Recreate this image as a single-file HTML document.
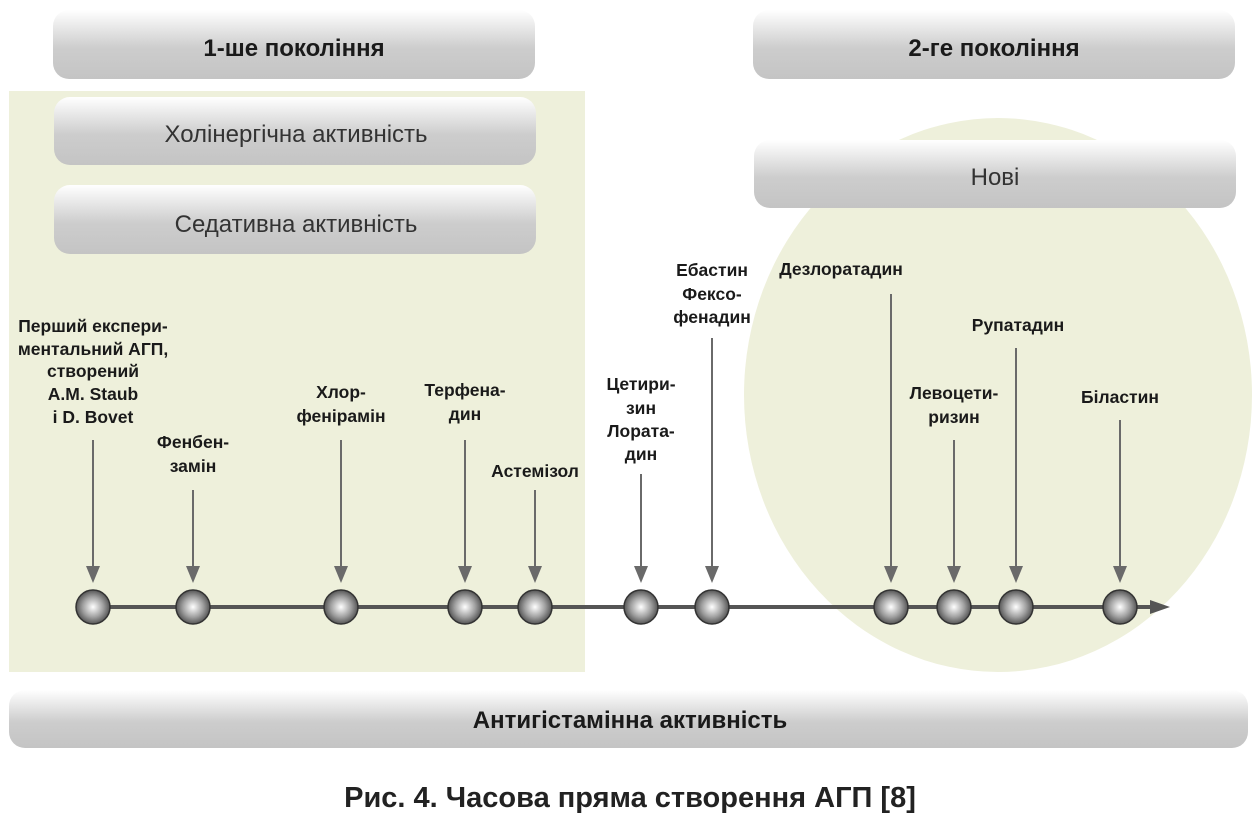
<!DOCTYPE html>
<html><head><meta charset="utf-8"><style>
body{margin:0;background:#fff;}
svg text{font-family:"Liberation Sans",sans-serif;}
</style></head><body>
<svg width="1260" height="819" viewBox="0 0 1260 819" xmlns="http://www.w3.org/2000/svg">
<defs>
<linearGradient id="g" x1="0" y1="0" x2="0" y2="1">
<stop offset="0" stop-color="#ffffff"/><stop offset="0.55" stop-color="#cdcdcd"/><stop offset="1" stop-color="#c4c4c4"/>
</linearGradient>
<radialGradient id="b" cx="0.5" cy="0.5" r="0.5">
<stop offset="0" stop-color="#ffffff"/><stop offset="0.6" stop-color="#a0a0a0"/><stop offset="1" stop-color="#555"/>
</radialGradient>
</defs>
<rect x="9" y="91" width="576" height="581" fill="#eef0db"/>
<ellipse cx="998" cy="395" rx="254" ry="277" fill="#eef0db"/>
<g fill="url(#g)">
<rect x="53" y="10" width="482" height="69" rx="16"/>
<rect x="753" y="10" width="482" height="69" rx="16"/>
<rect x="54" y="97" width="482" height="68" rx="16"/>
<rect x="54" y="185" width="482" height="69" rx="16"/>
<rect x="754" y="140" width="482" height="68" rx="16"/>
<rect x="9" y="690" width="1239" height="58" rx="16"/>
</g>
<g font-size="24" text-anchor="middle" fill="#1a1a1a">
<text x="294" y="56" font-weight="bold">1-ше покоління</text>
<text x="994" y="56" font-weight="bold">2-ге покоління</text>
<text x="296" y="142" fill="#333">Холінергічна активність</text>
<text x="296" y="232" fill="#333">Седативна активність</text>
<text x="995" y="185" fill="#333">Нові</text>
<text x="630" y="728" font-weight="bold">Антигістамінна активність</text>
</g>
<text x="630" y="807" text-anchor="middle" font-size="29" font-weight="bold" fill="#222">Рис. 4. Часова пряма створення АГП [8]</text>
<line x1="93" y1="607" x2="1155" y2="607" stroke="#555" stroke-width="4"/>
<polygon points="1150,600 1170,607 1150,614" fill="#555"/>
<g stroke="#6a6a6a" stroke-width="2">
<line x1="93" y1="440" x2="93" y2="572"/><line x1="193" y1="490" x2="193" y2="572"/>
<line x1="341" y1="440" x2="341" y2="572"/><line x1="465" y1="440" x2="465" y2="572"/>
<line x1="535" y1="490" x2="535" y2="572"/><line x1="641" y1="474" x2="641" y2="572"/>
<line x1="712" y1="338" x2="712" y2="572"/><line x1="891" y1="294" x2="891" y2="572"/>
<line x1="954" y1="440" x2="954" y2="572"/><line x1="1016" y1="348" x2="1016" y2="572"/>
<line x1="1120" y1="420" x2="1120" y2="572"/>
</g>
<g fill="#6a6a6a">
<polygon points="86,566 100,566 93,583"/><polygon points="186,566 200,566 193,583"/>
<polygon points="334,566 348,566 341,583"/><polygon points="458,566 472,566 465,583"/>
<polygon points="528,566 542,566 535,583"/><polygon points="634,566 648,566 641,583"/>
<polygon points="705,566 719,566 712,583"/><polygon points="884,566 898,566 891,583"/>
<polygon points="947,566 961,566 954,583"/><polygon points="1009,566 1023,566 1016,583"/>
<polygon points="1113,566 1127,566 1120,583"/>
</g>
<g fill="url(#b)" stroke="#333" stroke-width="1.5">
<circle cx="93" cy="607" r="17"/><circle cx="193" cy="607" r="17"/><circle cx="341" cy="607" r="17"/>
<circle cx="465" cy="607" r="17"/><circle cx="535" cy="607" r="17"/><circle cx="641" cy="607" r="17"/>
<circle cx="712" cy="607" r="17"/><circle cx="891" cy="607" r="17"/><circle cx="954" cy="607" r="17"/>
<circle cx="1016" cy="607" r="17"/><circle cx="1120" cy="607" r="17"/>
</g>
<g font-size="17.5" font-weight="bold" text-anchor="middle" fill="#1a1a1a">
<text x="93" y="332">Перший експери-</text><text x="93" y="355">ментальний АГП,</text>
<text x="93" y="377">створений</text><text x="93" y="400">A.M. Staub</text><text x="93" y="423">і D. Bovet</text>
<text x="193" y="448">Фенбен-</text><text x="193" y="472">замін</text>
<text x="341" y="398">Хлор-</text><text x="341" y="422">фенірамін</text>
<text x="465" y="396">Терфена-</text><text x="465" y="420">дин</text>
<text x="535" y="477">Астемізол</text>
<text x="641" y="390">Цетири-</text><text x="641" y="414">зин</text><text x="641" y="437">Лората-</text><text x="641" y="460">дин</text>
<text x="712" y="276">Ебастин</text><text x="712" y="300">Фексо-</text><text x="712" y="323">фенадин</text>
<text x="841" y="275">Дезлоратадин</text>
<text x="954" y="399">Левоцети-</text><text x="954" y="423">ризин</text>
<text x="1018" y="331">Рупатадин</text>
<text x="1120" y="403">Біластин</text>
</g>
</svg>
</body></html>
